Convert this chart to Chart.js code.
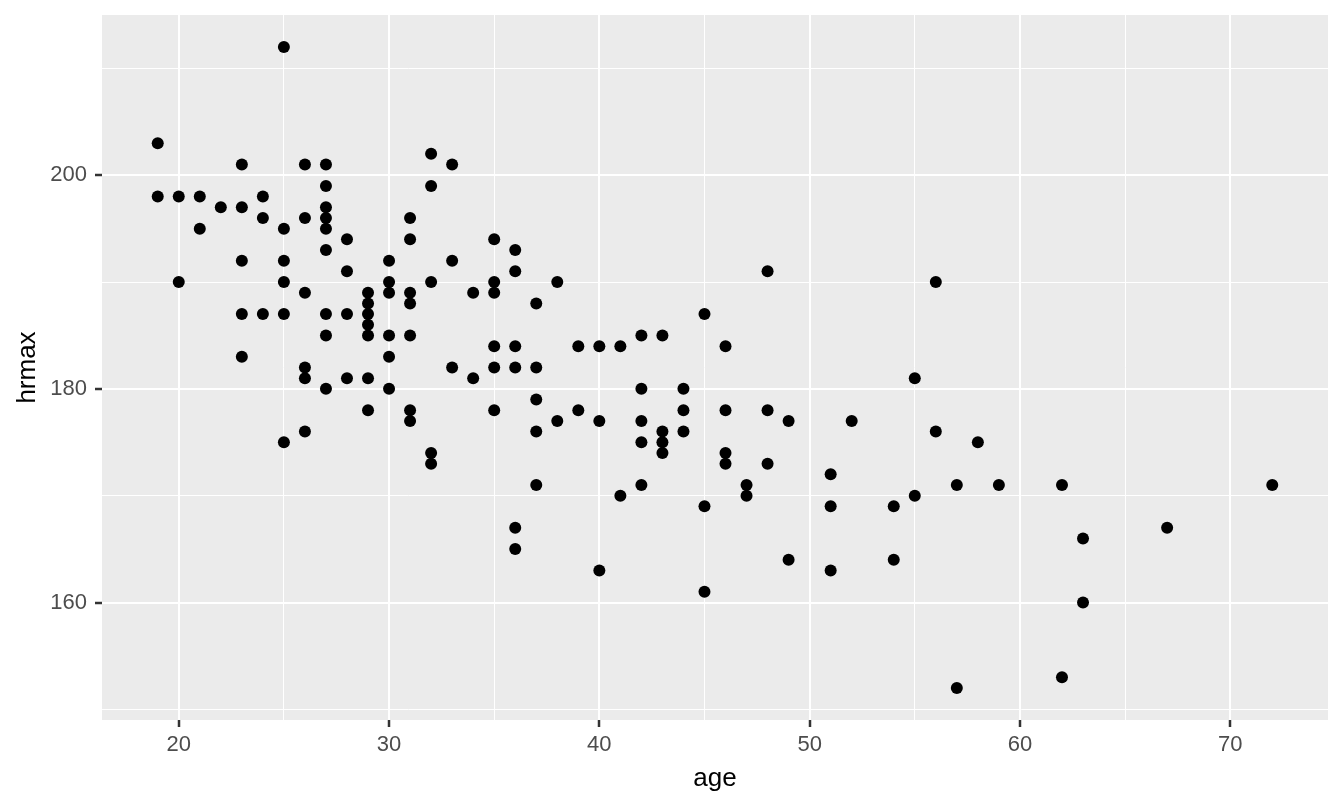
<!DOCTYPE html>
<html lang="en">
<head>
  <meta charset="UTF-8">
  <title>hrmax vs age</title>
  <script src="https://cdn.jsdelivr.net/npm/chart.js"></script>
  <style>
    html, body {
      margin: 0;
      padding: 0;
      background: #ffffff;
    }

    .grafico-container {
      width: 1344px;
      height: 806px;
    }
  </style>
</head>
<body>

  <div class="grafico-container">
    <canvas id="grafico"></canvas>
  </div>

  <script>
    // ages and matching hrmax readings
    const age = [
      19, 19, 20, 20, 21, 21, 22,
      23, 23, 23, 23, 23,
      24, 24, 24,
      25, 25, 25, 25, 25, 25,
      26, 26, 26, 26, 26, 26,
      27, 27, 27, 27, 27, 27, 27, 27, 27,
      28, 28, 28, 28,
      29, 29, 29, 29, 29, 29, 29,
      30, 30, 30, 30, 30, 30,
      31, 31, 31, 31, 31, 31, 31,
      32, 32, 32, 32, 32,
      33, 33, 33,
      34, 34,
      35, 35, 35, 35, 35, 35,
      36, 36, 36, 36, 36, 36,
      37, 37, 37, 37, 37,
      38, 38, 39, 39,
      40, 40, 40, 41, 41,
      42, 42, 42, 42, 42,
      43, 43, 43, 43,
      44, 44, 44,
      45, 45, 45,
      46, 46, 46, 46,
      47, 47,
      48, 48, 48,
      49, 49,
      51, 51, 51,
      52, 54, 54, 55, 55, 56, 56, 57, 57, 58, 59,
      62, 62, 63, 63, 67, 72
    ];
    const hrmax = [
      203, 198, 198, 190, 198, 195, 197,
      201, 197, 192, 187, 183,
      198, 196, 187,
      212, 195, 192, 190, 187, 175,
      201, 196, 189, 182, 181, 176,
      201, 199, 197, 196, 195, 193, 187, 185, 180,
      194, 191, 187, 181,
      189, 188, 187, 186, 185, 181, 178,
      192, 190, 189, 185, 183, 180,
      196, 194, 189, 188, 185, 178, 177,
      202, 199, 190, 174, 173,
      201, 192, 182,
      189, 181,
      194, 190, 189, 184, 182, 178,
      193, 191, 184, 182, 167, 165,
      188, 182, 179, 176, 171,
      190, 177, 184, 178,
      184, 177, 163, 184, 170,
      185, 180, 177, 175, 171,
      185, 176, 175, 174,
      180, 178, 176,
      187, 169, 161,
      184, 178, 174, 173,
      171, 170,
      191, 178, 173,
      177, 164,
      172, 169, 163,
      177, 169, 164, 181, 170, 190, 176, 171, 152, 175, 171,
      171, 153, 166, 160, 167, 171
    ];

    const xTicks = [20, 30, 40, 50, 60, 70];
    const xMinor = [25, 35, 45, 55, 65];
    const yTicks = [160, 180, 200];
    const yMinor = [150, 170, 190, 210];

    const pontos = age.map((a, i) => ({ x: a, y: hrmax[i] }));

    // ggplot-style padding: 5% of the data range on each side
    function limites(valores) {
      const min = Math.min(...valores);
      const max = Math.max(...valores);
      const pad = (max - min) * 0.05;
      return { min: min - pad, max: max + pad };
    }
    const limX = limites(age);
    const limY = limites(hrmax);

    const fundoPainel = {
      id: 'fundoPainel',
      beforeDraw(chart) {
        const { ctx, chartArea } = chart;
        ctx.save();
        ctx.fillStyle = '#EBEBEB';
        ctx.fillRect(chartArea.left, chartArea.top, chartArea.width, chartArea.height);
        ctx.restore();
      }
    };

    function eixo(principais, menores, limite, titulo, padTick, padTitulo, fit) {
      return {
        type: 'linear',
        min: limite.min,
        max: limite.max,
        afterBuildTicks: (scale) => {
          scale.ticks = principais.concat(menores)
            .sort((a, b) => a - b)
            .map(v => ({ value: v }));
        },
        afterFit: fit,
        border: { display: false },
        grid: {
          color: '#FFFFFF',
          lineWidth: (c) => principais.includes(c.tick && c.tick.value) ? 2 : 1,
          drawTicks: true,
          tickLength: 7,
          tickWidth: 2.5,
          tickColor: (c) => principais.includes(c.tick && c.tick.value) ? '#333333' : 'rgba(0,0,0,0)'
        },
        ticks: {
          autoSkip: false,
          maxRotation: 0,
          padding: padTick,
          color: '#4D4D4D',
          font: { family: 'Liberation Sans', size: 22 },
          callback: (v) => principais.includes(v) ? String(v) : ''
        },
        title: {
          display: true,
          text: titulo,
          color: '#000000',
          font: { family: 'Liberation Sans', size: 26 },
          padding: padTitulo
        }
      };
    }

    const ctx = document.getElementById('grafico').getContext('2d');
    const chart = new Chart(ctx, {
      type: 'scatter',
      data: {
        datasets: [{
          label: 'hrmax',
          data: pontos,
          backgroundColor: '#000000',
          borderWidth: 0,
          pointRadius: 6,
          pointHoverRadius: 6
        }]
      },
      options: {
        responsive: true,
        maintainAspectRatio: false,
        animation: false,
        layout: {
          padding: { top: 15, right: 16, left: 0, bottom: 0 }
        },
        plugins: {
          legend: { display: false },
          tooltip: { enabled: false }
        },
        scales: {
          x: eixo(xTicks, xMinor, limX, 'age', 5, 12, (s) => {
            s.height = 86;
            s.paddingLeft = 0;
            s.paddingRight = 0;
          }),
          y: eixo(yTicks, yMinor, limY, 'hrmax', 8, 12, (s) => {
            s.width = 102;
            s.paddingTop = 0;
            s.paddingBottom = 0;
          })
        }
      },
      plugins: [fundoPainel]
    });
  </script>

</body>
</html>
